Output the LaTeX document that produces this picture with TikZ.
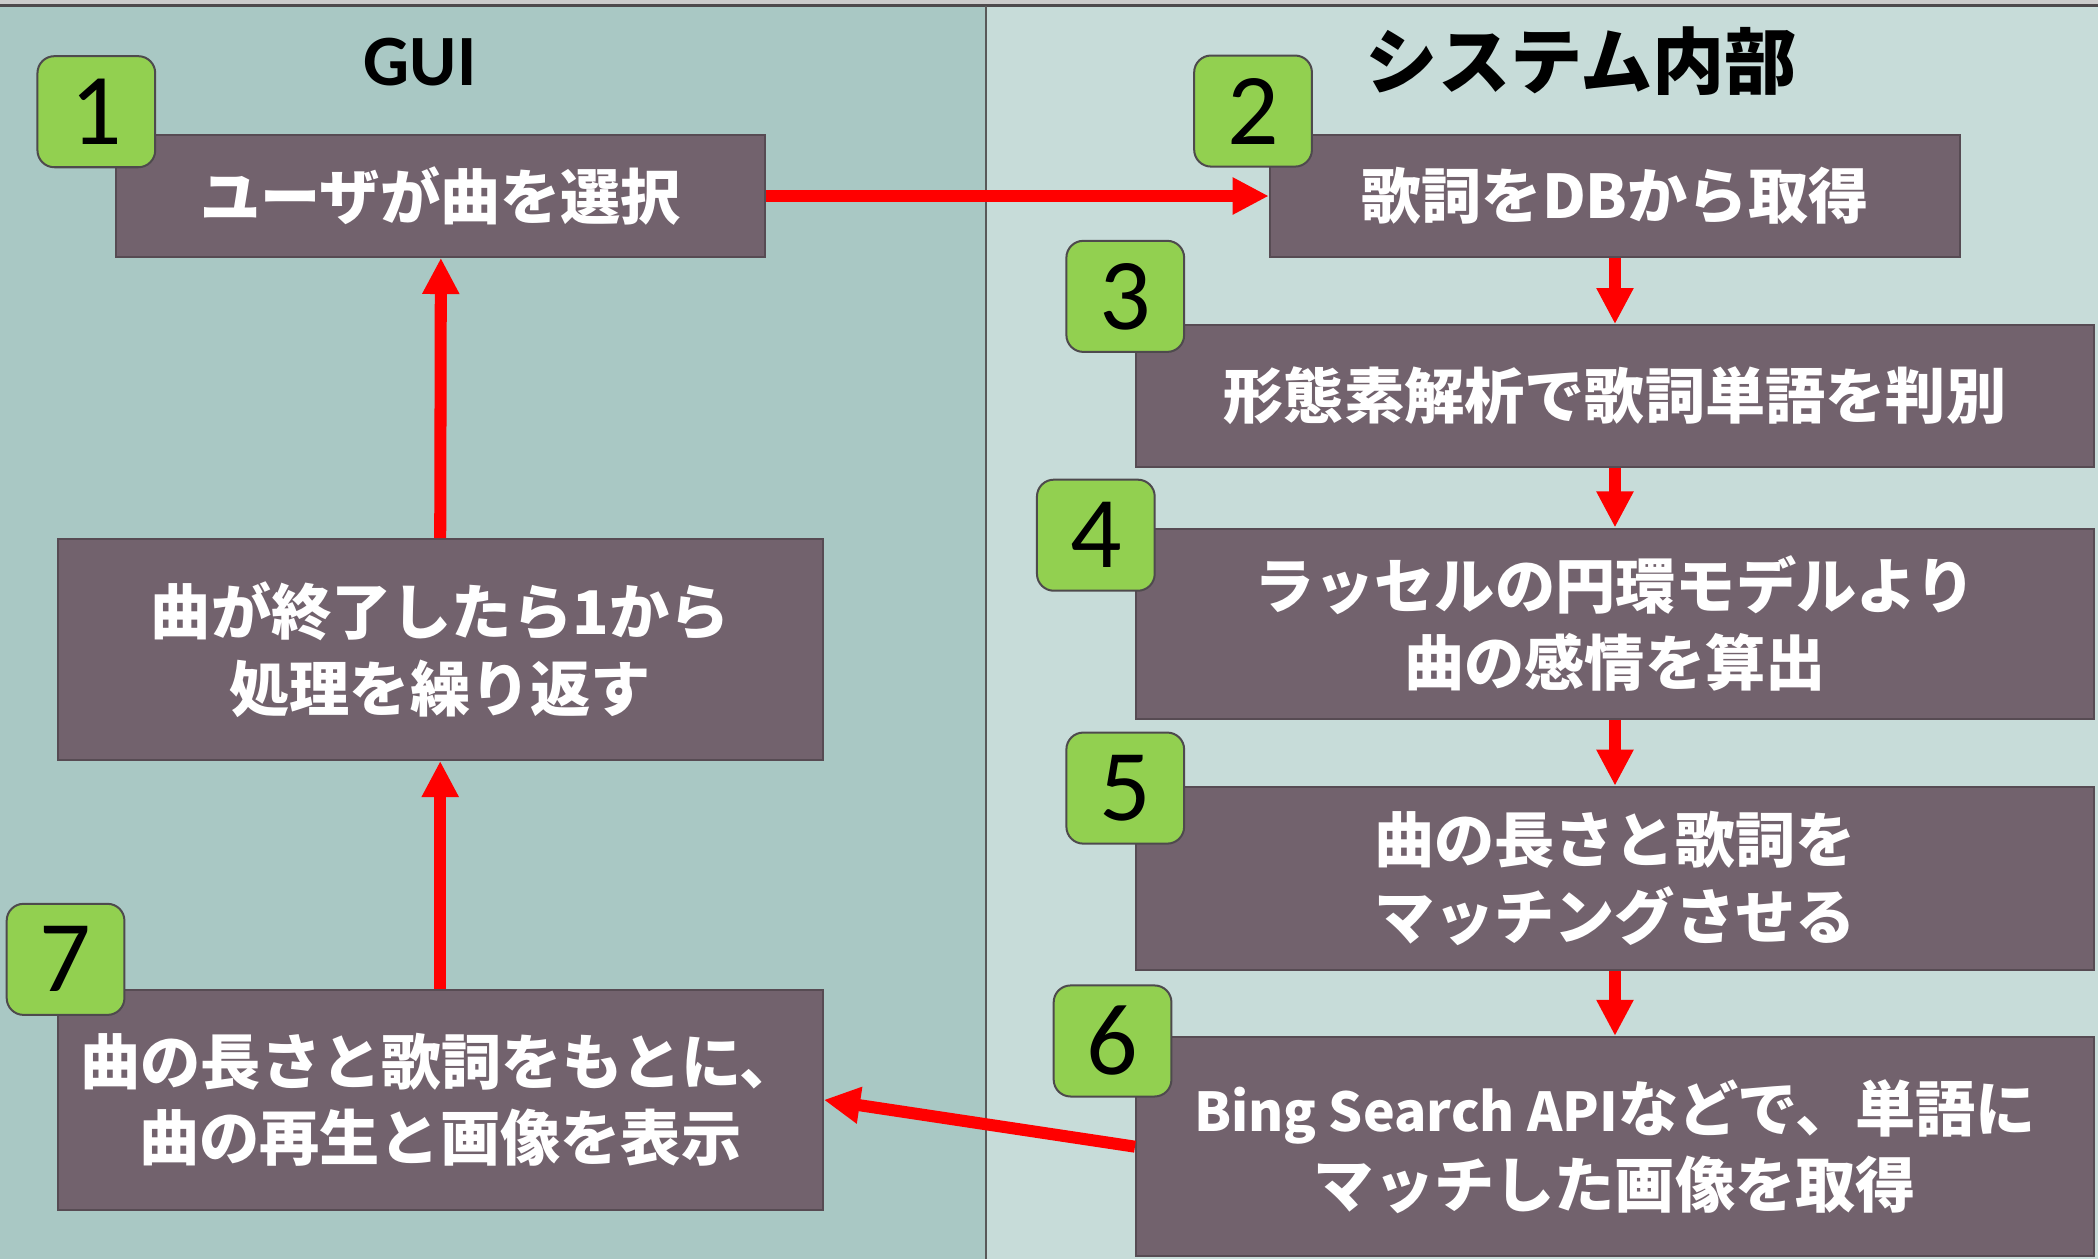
\documentclass[tikz,border=0pt]{standalone}
\usepackage{fontspec}
\setmainfont{Noto Sans CJK JP}
\newfontfamily\latinfont{Carlito}
\usepackage{tikz}
\usetikzlibrary{arrows.meta}
\tikzset{>={Triangle[width=13pt,length=13.5pt]}}

\definecolor{guibg}{HTML}{A9C8C4}
\definecolor{sysbg}{HTML}{C7DCD9}
\definecolor{boxfill}{HTML}{72626D}
\definecolor{boxline}{HTML}{574B53}
\definecolor{numfill}{HTML}{92D050}
\definecolor{numline}{HTML}{4E4A4D}

\tikzset{
  stepbox/.style={draw=boxline, fill=boxfill, line width=0.75pt, text=white,
    align=center, inner sep=0pt, font=\bfseries\fontsize{22.5}{28.5}\selectfont},
  boxsize/.style 2 args={minimum width=#1*0.5pt, minimum height=#2*0.5pt},
  numbox/.style={draw=numline, fill=numfill, line width=0.75pt, rounded corners=6.3pt,
    minimum width=44pt, minimum height=41.5pt, inner sep=0pt,
    font=\latinfont\fontsize{38}{38}\selectfont},
  flow/.style={->, red, line width=4.5pt},
  title/.style={inner sep=0pt}
}

\begin{document}
\begin{tikzpicture}[x=0.5pt, y=-0.5pt]
  \useasboundingbox (0,0) rectangle (1568,941);

  % lanes
  \fill[guibg] (0,3) rectangle (737,941);
  \fill[sysbg] (737,3) rectangle (1568,941);
  \fill[black!20] (0,0) rectangle (1568,3);
  \draw[numline, line width=1.1pt] (0,4.3) -- (1568,4.3);
  \draw[black!65, line width=0.6pt] (737,4.3) -- (737,941);

  \node[title, font=\latinfont\bfseries\fontsize{27}{27}\selectfont] (guititle) at (314,46.5) {GUI};
  \node[title, font=\bfseries\fontsize{27}{27}\selectfont] (systitle) at (1182,46) {システム内部};

  % steps
  \node[stepbox, boxsize={485}{91}]  (select) at (329.5,146.5) {ユーザが曲を選択};
  \node[stepbox, boxsize={516}{91}]  (fetch)  at (1207,146.5)  {歌詞をDBから取得};
  \node[stepbox, boxsize={716}{106}] (morph)  at (1207,296)    {形態素解析で歌詞単語を判別};
  \node[stepbox, boxsize={716}{142}] (emo)    at (1207,466)    {ラッセルの円環モデルより\\曲の感情を算出};
  \node[stepbox, boxsize={716}{137}] (match)  at (1207,656.5)  {曲の長さと歌詞を\\マッチングさせる};
  \node[stepbox, boxsize={716}{164}] (image)  at (1207,857)    {{\fontsize{20}{28.5}\selectfont Bing Search API}などで、単語に\\マッチした画像を取得};
  \node[stepbox, boxsize={572}{165}] (repeat) at (329,485.5)   {曲が終了したら1から\\処理を繰り返す};
  \node[stepbox, boxsize={572}{164}] (play)   at (329,822)     {曲の長さと歌詞をもとに、\\曲の再生と画像を表示};

  % numbers
  \node[numbox] (n1) at (72,83.5)   {1};
  \node[numbox] (n2) at (936.5,83)  {2};
  \node[numbox] (n3) at (841,221.5) {3};
  \node[numbox] (n4) at (819,400)   {4};
  \node[numbox] (n5) at (841,589)   {5};
  \node[numbox] (n6) at (831.5,778) {6};
  \node[numbox] (n7) at (49,717)    {7};

  \draw[flow] (select.east) -- (fetch.west);
  \draw[flow] (fetch.south) -- (morph.north);
  \draw[flow] (morph.south) -- (emo.north);
  \draw[flow] (emo.south) -- (match.north);
  \draw[flow] (match.south) -- (image.north);
  \draw[flow] (image.west) -- (play.east);
  \draw[flow] (play.north) -- (repeat.south);
  \draw[flow] (repeat.north) -- (select.south);
\end{tikzpicture}
\end{document}
